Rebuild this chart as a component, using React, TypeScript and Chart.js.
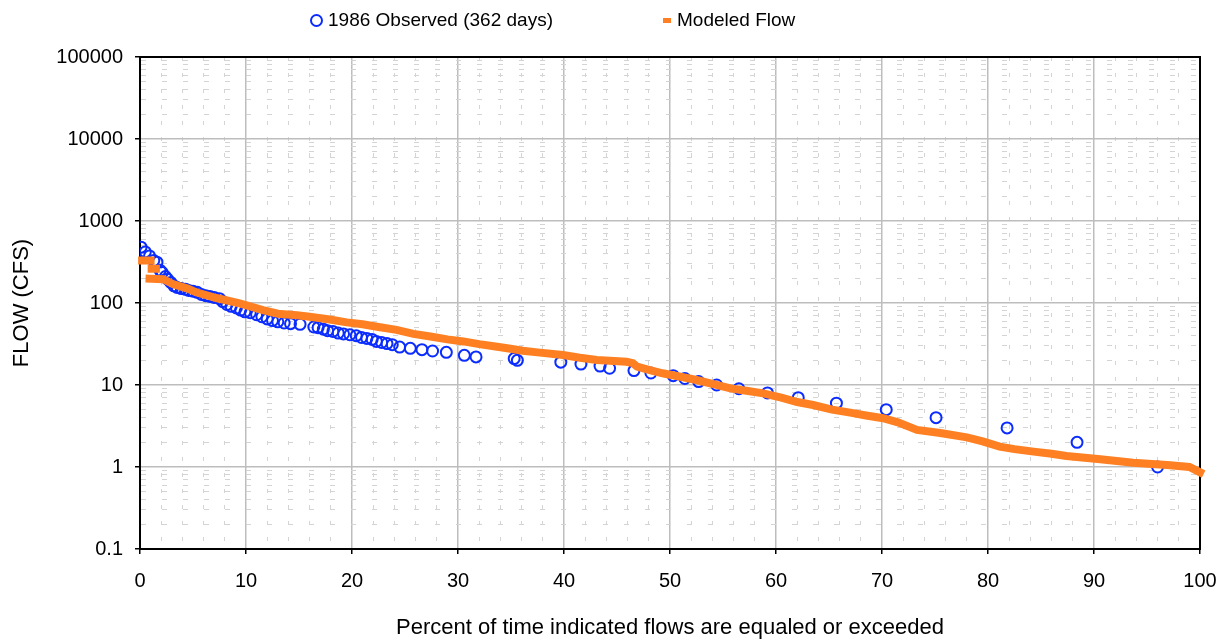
import React, { useEffect, useRef } from 'react';
import { Chart, registerables } from 'chart.js';

Chart.register(...registerables);

// ---- data ----
const observedPercent = [
  0.1, 0.5, 0.9, 1.3, 1.6, 1.9, 2.1, 2.4, 2.6, 2.9, 3.2, 3.5, 3.9, 4.3, 4.6, 5.0, 5.4, 5.8, 6.2, 6.6,
  7.0, 7.5, 7.8, 8.2, 8.6, 9.1, 9.5, 9.9, 10.4, 11.0, 11.5, 12.0, 12.5, 13.0, 13.6, 14.2, 15.1, 16.4,
  16.8, 17.3, 17.7, 18.2, 18.7, 19.2, 19.8, 20.4, 20.9, 21.4, 21.9, 22.3, 22.8, 23.3, 23.8, 24.5, 25.5,
  26.6, 27.6, 28.9, 30.6, 31.7, 35.3, 35.6, 39.7, 41.6, 43.4, 44.3, 46.6, 48.2, 50.3, 51.4, 52.7, 54.4,
  56.5, 59.2, 62.1, 65.7, 70.4, 75.1, 81.8, 88.4, 96.0,
];
const observedFlow = [
  480, 420, 375, 330, 315, 250, 235, 210, 195, 178, 162, 155, 150, 147, 142, 139, 135, 127, 123, 120,
  117, 113, 104, 96, 91, 87, 82, 78, 76, 72, 68, 64, 61, 59, 57, 56, 55, 51,
  50, 48, 46, 45, 43, 42, 41, 40, 38, 37, 36, 34, 33, 32, 31, 29, 28,
  27, 26, 25, 23, 22, 21, 20, 19, 18, 17, 16, 15, 14, 13, 12, 11, 10,
  9, 8, 7, 6, 5, 4, 3, 2, 1,
];

const modeledPercent = [
  0.2, 1.0, 1.0, 1.1, 1.5, 1.5,
  0.9, 2.2, 3.1, 4.5, 5.3, 7.2, 9.4, 11.6, 13.0, 14.8, 16.0, 17.9, 19.5, 21.0, 22.5, 24.2, 25.8, 27.4,
  29.0, 30.5, 32.0, 33.7, 35.1, 36.1, 37.5, 39.9, 41.5, 43.1, 45.9, 46.5, 46.9, 48.0, 49.3, 51.0, 52.5,
  54.0, 55.7, 57.2, 58.8, 60.5, 62.0, 63.5, 65.3, 67.0, 68.5, 70.1, 71.5, 73.3, 75.5, 78.0, 79.5, 81.1,
  82.5, 84.3, 86.0, 87.4, 90.6, 93.7, 96.9, 99.0, 100,
];
const modeledFlow: (number | null)[] = [
  330, 330, null, 262, 262, null,
  198, 195, 170, 150, 135, 115, 99, 82, 74, 71, 68, 63, 58, 55, 51, 47, 42, 39,
  36, 34, 31.5, 29.3, 27.5, 26.2, 25, 23.2, 21.5, 20.2, 19.2, 18.5, 16.7, 15.3, 13.9, 12.6, 11.5,
  10.3, 9.1, 8.5, 7.9, 7.0, 6.2, 5.7, 5.0, 4.6, 4.25, 3.93, 3.5, 2.83, 2.6, 2.3, 2.05, 1.77,
  1.65, 1.54, 1.45, 1.36, 1.24, 1.13, 1.06, 1.0, 0.86,
];

const yMin = 0.1;
const yMax = 100000;
const xMin = 0;
const xMax = 100;
const xMajorStep = 10;
const xMinorStep = 2;

const seriesLabels = ['1986 Observed (362 days)', 'Modeled Flow'];
const yTitle = 'FLOW (CFS)';
const xTitle = 'Percent of time indicated flows are equaled or exceeded';

const BLUE = '#0a2cff';
const ORANGE = '#ff8022';
const FONT = '"Liberation Sans", Arial, Helvetica, sans-serif';

const isPow10 = (v: number) => {
  const l = Math.log10(v);
  return Math.abs(l - Math.round(l)) < 1e-9;
};

export default function App() {
  const canvasRef = useRef<HTMLCanvasElement | null>(null);

  useEffect(() => {
    document.body.style.margin = '0';
    document.body.style.overflow = 'hidden';
    const canvas = canvasRef.current;
    if (!canvas) return;

    const framePlugin = {
      id: 'frame',
      beforeDatasetsDraw(chart: any) {
        const { ctx, chartArea: a } = chart;
        ctx.save();
        ctx.strokeStyle = '#000';
        ctx.lineWidth = 2;
        ctx.strokeRect(a.left, a.top, a.right - a.left, a.bottom - a.top);
        ctx.restore();
      },
    };

    const chart = new Chart(canvas, {
      type: 'scatter',
      data: {
        datasets: [
          {
            label: seriesLabels[1],
            data: modeledPercent.map((x, i) => ({ x, y: modeledFlow[i] as any })),
            showLine: true,
            spanGaps: false,
            borderColor: ORANGE,
            backgroundColor: ORANGE,
            borderWidth: 8,
            borderCapStyle: 'square',
            borderJoinStyle: 'miter',
            pointRadius: 0,
            pointHoverRadius: 0,
            tension: 0,
            clip: false as any,
            order: 0,
          },
          {
            label: seriesLabels[0],
            data: observedPercent.map((x, i) => ({ x, y: observedFlow[i] })),
            showLine: false,
            pointStyle: 'circle',
            pointRadius: 5.5,
            pointBorderWidth: 2,
            pointBorderColor: BLUE,
            pointBackgroundColor: 'rgba(0,0,0,0)',
            borderColor: BLUE,
            backgroundColor: 'rgba(0,0,0,0)',
            order: 1,
          },
        ],
      },
      options: {
        animation: false,
        responsive: false,
        maintainAspectRatio: false,
        layout: { autoPadding: false, padding: { left: 0, right: 29, top: 57, bottom: 0 } },
        plugins: {
          legend: { display: false },
          tooltip: { enabled: false },
        },
        scales: {
          x: {
            type: 'linear',
            min: xMin,
            max: xMax,
            afterFit(scale: any) {
              scale.height = 92;
              scale.paddingLeft = 0;
              scale.paddingRight = 0;
            },
            ticks: {
              stepSize: xMinorStep,
              autoSkip: false,
              maxRotation: 0,
              color: '#000',
              padding: 15,
              font: { family: FONT, size: 20 },
              callback: (v: any) => (Math.round(v) % xMajorStep === 0 ? String(Math.round(v)) : ''),
            },
            grid: {
              color: (c: any) =>
                c.tick && Math.round(c.tick.value) % xMajorStep === 0 ? '#bdbdbd' : '#d4d4d4',
              lineWidth: (c: any) => (c.tick && Math.round(c.tick.value) % xMajorStep === 0 ? 1.5 : 1),
              tickColor: (c: any) =>
                c.tick && Math.round(c.tick.value) % xMajorStep === 0 ? '#000' : 'rgba(0,0,0,0)',
              tickLength: 5,
              tickWidth: 1.5,
            },
            border: {
              display: true,
              color: '#000',
              width: 2,
              dash: (c: any) =>
                c.tick && Math.round(c.tick.value) % xMajorStep === 0 ? [] : [4, 12],
            } as any,
            title: {
              display: true,
              text: xTitle,
              color: '#000',
              font: { family: FONT, size: 22 },
              padding: { top: 0, bottom: 0 },
            },
          },
          y: {
            type: 'logarithmic',
            min: yMin,
            max: yMax,
            afterBuildTicks(scale: any) {
              const ticks: any[] = [];
              for (let e = -1; e <= 5; e++) {
                for (let s = 1; s <= 9; s++) {
                  const v = parseFloat((s * Math.pow(10, e)).toPrecision(4));
                  if (v >= yMin && v <= yMax) ticks.push({ value: v, major: s === 1 });
                }
              }
              scale.ticks = ticks;
            },
            afterFit(scale: any) {
              scale.width = 140;
            },
            ticks: {
              autoSkip: false,
              color: '#000',
              padding: 12,
              font: { family: FONT, size: 20 },
              callback: (v: any) => (isPow10(Number(v)) ? String(Number(v)) : ''),
            },
            grid: {
              color: (c: any) => (c.tick && isPow10(c.tick.value) ? '#bdbdbd' : '#d4d4d4'),
              lineWidth: (c: any) => (c.tick && isPow10(c.tick.value) ? 1.5 : 1),
              tickColor: (c: any) => (c.tick && isPow10(c.tick.value) ? '#000' : 'rgba(0,0,0,0)'),
              tickLength: 5,
              tickWidth: 1.5,
            },
            border: {
              display: true,
              color: '#000',
              width: 2,
              dash: (c: any) => (c.tick && isPow10(c.tick.value) ? [] : [5, 16]),
            } as any,
            title: {
              display: true,
              text: yTitle,
              color: '#000',
              font: { family: FONT, size: 22 },
              padding: { top: 9, bottom: 0 },
            },
          },
        },
      },
      plugins: [framePlugin],
    } as any);

    return () => chart.destroy();
  }, []);

  const legendFont = `19px ${FONT}`;

  return (
    <div style={{ position: 'relative', width: 1229, height: 641, background: '#fff' }}>
      <canvas ref={canvasRef} width={1229} height={641} style={{ display: 'block' }} />
      <div
        style={{
          position: 'absolute',
          left: 310,
          top: 8,
          height: 24,
          display: 'flex',
          alignItems: 'center',
          font: legendFont,
          color: '#000',
          whiteSpace: 'nowrap',
        }}
      >
        <span
          style={{
            display: 'inline-block',
            width: 9,
            height: 9,
            border: `2px solid ${BLUE}`,
            borderRadius: '50%',
            marginRight: 5,
          }}
        />
        {seriesLabels[0]}
      </div>
      <div
        style={{
          position: 'absolute',
          left: 663,
          top: 8,
          height: 24,
          display: 'flex',
          alignItems: 'center',
          font: legendFont,
          color: '#000',
          whiteSpace: 'nowrap',
        }}
      >
        <span
          style={{
            display: 'inline-block',
            width: 8,
            height: 5,
            background: ORANGE,
            marginRight: 6,
          }}
        />
        {seriesLabels[1]}
      </div>
    </div>
  );
}
